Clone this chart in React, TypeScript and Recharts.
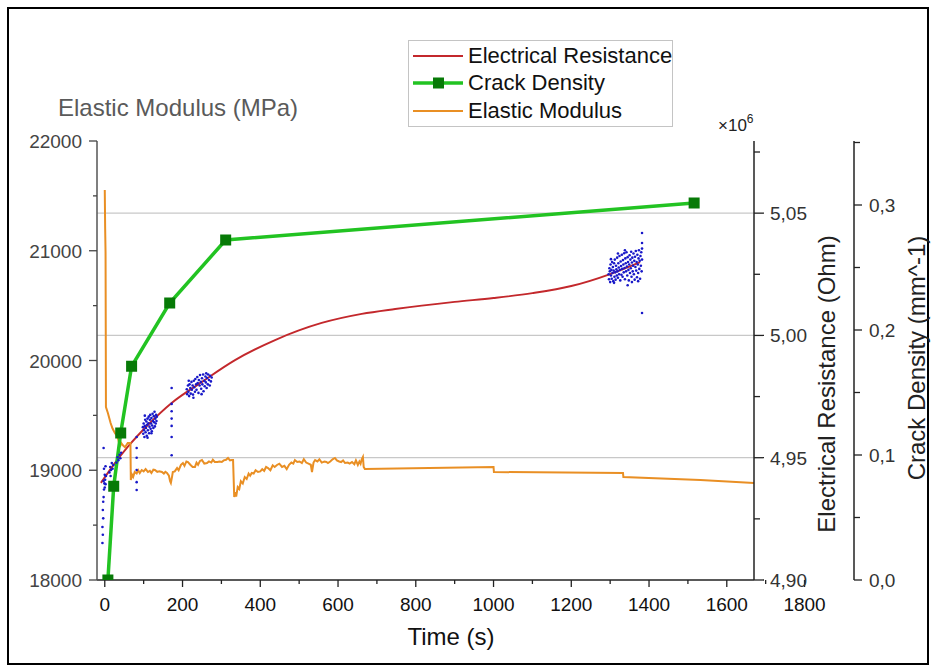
import React from 'react';
import { ComposedChart, Line, Scatter, XAxis, YAxis, ReferenceLine, Legend } from 'recharts';

const FONT = '"Liberation Sans", Arial, sans-serif';

// axis ticks (majors get a label, the rest are minor ticks)
const timeTicks = [0, 100, 200, 300, 400, 500, 600, 700, 800, 900, 1000, 1100, 1200, 1300, 1400, 1500, 1600, 1700, 1800];
const modulusTicks = [18000, 18500, 19000, 19500, 20000, 20500, 21000, 21500, 22000];
const resistanceTicks = [4.9, 4.925, 4.95, 4.975, 5.0, 5.025, 5.05, 5.075];
const crackTicks = [0, 0.05, 0.1, 0.15, 0.2, 0.25, 0.3, 0.35];
const resistanceGrid = [4.95, 5.0, 5.05];

// crack density (mm^-1) vs time (s)
const crackDensity = [
  [8, 0], [23, 0.075], [41, 0.1176], [69, 0.171], [167, 0.2216], [311, 0.272], [1516, 0.3016],
];

// electrical resistance fit (x10^6 Ohm)
const resistanceFit = [
  [-10, 4.9397], [26, 4.9478], [59, 4.9544], [116, 4.9642], [172, 4.9724], [250, 4.981],
  [335, 4.9899], [438, 4.9981], [558, 5.0051], [661, 5.0088], [747, 5.0108], [900, 5.0137],
  [1000, 5.0153], [1100, 5.0173], [1200, 5.0202], [1300, 5.0251], [1377, 5.03],
];

// electrical resistance measurements (x10^6 Ohm)
const resistanceEarly = [
  [-6, 4.9151], [-5, 4.9185], [-6, 4.9217], [-4, 4.9252], [-5, 4.9286], [-4, 4.932], [-3, 4.9339],
  [-2, 4.937], [-1, 4.9395], [0, 4.9378], [1, 4.941], [2, 4.9392], [3, 4.9425], [-3, 4.9405],
  [0, 4.943], [12, 4.944], [14, 4.9462], [15, 4.9425], [16, 4.945], [18, 4.9478], [20, 4.9455],
  [22, 4.947], [30, 4.948], [33, 4.9502], [35, 4.949], [38, 4.9512], [40, 4.9498], [42, 4.952],
  [-2, 4.9455], [2, 4.9465], [-3, 4.954],
  [82, 4.9585], [82, 4.954], [82, 4.95], [82, 4.945], [82, 4.94], [82, 4.9368],
  [172, 4.9785], [172, 4.972], [172, 4.969], [172, 4.966], [172, 4.963], [172, 4.9585], [172, 4.951],
];
const resistanceMid = [
  [98, 4.9625], [99, 4.9598], [100, 4.964], [101, 4.9612], [102, 4.9585], [103, 4.963], [104, 4.9655],
  [105, 4.9604], [106, 4.9622], [107, 4.9648], [108, 4.959], [109, 4.9635], [110, 4.966], [111, 4.9612],
  [112, 4.9641], [113, 4.9668], [114, 4.96], [115, 4.9627], [116, 4.9655], [117, 4.9675], [118, 4.9618],
  [119, 4.964], [120, 4.9662], [121, 4.9608], [122, 4.9632], [123, 4.968], [124, 4.965], [125, 4.9622],
  [126, 4.967], [127, 4.9645], [128, 4.9688], [129, 4.9628], [130, 4.966], [131, 4.964], [132, 4.9675],
  [133, 4.965], [134, 4.9668], [103, 4.9672], [110, 4.9582], [120, 4.96],
  [211, 4.978], [212, 4.976], [214, 4.9795], [215, 4.977], [217, 4.9752], [218, 4.98], [220, 4.9785],
  [221, 4.9762], [223, 4.981], [224, 4.9778], [226, 4.9795], [227, 4.9758], [229, 4.9815], [230, 4.9788],
  [232, 4.977], [233, 4.9822], [235, 4.98], [236, 4.9778], [238, 4.983], [239, 4.9805], [241, 4.9765],
  [242, 4.9818], [244, 4.9795], [245, 4.9838], [247, 4.981], [248, 4.9782], [250, 4.9825], [251, 4.98],
  [253, 4.984], [254, 4.9772], [256, 4.9815], [257, 4.9792], [259, 4.9832], [260, 4.9808], [262, 4.9785],
  [263, 4.9826], [265, 4.98], [266, 4.984], [268, 4.9818], [270, 4.9795], [271, 4.9835], [273, 4.9812],
  [275, 4.9828], [216, 4.9815], [228, 4.9745], [249, 4.976], [261, 4.9845],
];
const resistanceLate = [
  [1296, 5.025], [1297, 5.023], [1298, 5.0275], [1299, 5.0262], [1300, 5.0218], [1301, 5.029], [1302, 5.0245],
  [1303, 5.0268], [1304, 5.0232], [1305, 5.03], [1306, 5.0255], [1307, 5.028], [1308, 5.0222], [1309, 5.0265],
  [1310, 5.0295], [1311, 5.024], [1312, 5.031], [1313, 5.0258], [1314, 5.0228], [1315, 5.0285], [1316, 5.027],
  [1317, 5.0245], [1318, 5.0318], [1319, 5.0262], [1320, 5.0236], [1321, 5.0295], [1322, 5.0278], [1323, 5.025],
  [1324, 5.0325], [1325, 5.0268], [1326, 5.0225], [1327, 5.0302], [1328, 5.0284], [1329, 5.0248], [1330, 5.033],
  [1331, 5.0272], [1332, 5.024], [1333, 5.0308], [1334, 5.029], [1335, 5.0258], [1336, 5.0336], [1337, 5.0276],
  [1338, 5.023], [1339, 5.0315], [1340, 5.0295], [1341, 5.0262], [1342, 5.034], [1343, 5.0282], [1344, 5.0245],
  [1345, 5.032], [1346, 5.03], [1347, 5.0268], [1348, 5.0225], [1349, 5.029], [1350, 5.0328], [1351, 5.0255],
  [1352, 5.031], [1353, 5.0275], [1354, 5.0342], [1355, 5.024], [1356, 5.0298], [1357, 5.0318], [1358, 5.0262],
  [1359, 5.0285], [1360, 5.0335], [1361, 5.025], [1362, 5.0305], [1363, 5.0228], [1364, 5.0322], [1365, 5.028],
  [1366, 5.0345], [1367, 5.0265], [1368, 5.03], [1369, 5.0238], [1370, 5.033], [1371, 5.029], [1372, 5.0255],
  [1373, 5.0315], [1374, 5.0348], [1375, 5.0272], [1376, 5.0305], [1377, 5.0232], [1378, 5.0325], [1379, 5.0285],
  [1380, 5.034], [1381, 5.0262], [1382, 5.031], [1382, 5.0419], [1382, 5.0378], [1382, 5.0355], [1382, 5.0092],
  [1345, 5.0205], [1310, 5.0215], [1302, 5.0312], [1320, 5.0335], [1338, 5.0348], [1356, 5.0218], [1372, 5.0222],
];

// elastic modulus (MPa) vs time (s)
const elasticModulus = [
  [0, 21553], [1, 21200], [2, 20979], [2.5, 20300], [3, 19576], [8, 19522], [12, 19470], [15, 19430],
  [20, 19380], [26, 19339], [30, 19320], [33, 19303], [36, 19260], [39, 19212], [42, 19250], [46, 19230],
  [52, 19210], [59, 19248], [64, 19248], [66, 19248], [67, 18911], [70, 18960], [73, 18940], [77, 18984],
  [82, 18970], [86, 19000], [90, 18975], [95, 19002], [100, 18990], [105, 19010], [111, 18984], [116, 18995],
  [120, 18975], [125, 19005], [129, 19002], [135, 18985], [140, 18990], [147, 18984], [152, 18970],
  [156, 18985], [160, 18975], [165, 18950], [168, 18900], [170, 18884], [173, 18940], [175, 18984],
  [180, 18990], [186, 19020], [190, 19000], [196, 19050], [201, 19066], [205, 19040], [210, 19080],
  [214, 19075], [220, 19050], [226, 19030], [232, 19030], [236, 19070], [240, 19050], [245, 19085],
  [250, 19093], [256, 19060], [263, 19066], [268, 19080], [274, 19070], [278, 19095], [283, 19075],
  [290, 19075], [295, 19080], [301, 19075], [306, 19090], [312, 19095], [317, 19112], [322, 19090],
  [327, 19093], [330, 19093], [333, 18756], [336, 18800], [338, 18760], [342, 18847], [346, 18830],
  [350, 18900], [355, 18880], [360, 18938], [365, 18920], [370, 18970], [374, 18950], [378, 18975],
  [383, 18970], [388, 19000], [394, 18984], [400, 18990], [405, 19010], [410, 18995], [415, 19030],
  [420, 19020], [426, 19000], [432, 19045], [437, 19030], [443, 19048], [449, 19060], [456, 19030],
  [462, 19040], [468, 19010], [474, 19050], [480, 19070], [485, 19060], [489, 19093], [495, 19075],
  [501, 19080], [507, 19066], [512, 19100], [518, 19070], [524, 19060], [530, 19050], [533, 18984],
  [537, 19070], [541, 19093], [547, 19080], [552, 19100], [558, 19070], [565, 19080], [570, 19075],
  [574, 19066], [580, 19080], [586, 19100], [592, 19112], [597, 19090], [603, 19080], [608, 19075],
  [613, 19090], [618, 19066], [625, 19070], [630, 19060], [636, 19075], [642, 19055], [646, 19090],
  [651, 19048], [655, 19080], [658, 19060], [661, 19100], [664, 19121], [666, 19030], [669, 19011],
  [1000, 19030], [1001, 18984], [1333, 18975], [1334, 18938], [1532, 18911], [1670, 18884],
];

const toRows = (pairs: number[][]) => pairs.map(([t, v]) => ({ t, v }));
const resistancePoints = toRows([...resistanceEarly, ...resistanceMid, ...resistanceLate]);

const RED = '#c3282c';
const GREEN = '#22c322';
const GREEN_DARK = '#077a07';
const ORANGE = '#e98f24';
const BLUE = '#1818c8';

const legendItems = [
  { name: 'Electrical Resistance', color: RED, width: 1.8, marker: false },
  { name: 'Crack Density', color: GREEN, width: 3.5, marker: true },
  { name: 'Elastic Modulus', color: ORANGE, width: 1.8, marker: false },
];

const comma = (v: number, d: number) => v.toFixed(d).replace('.', ',');

function TimeTick({ x, y, payload }: any) {
  const major = payload.value % 200 === 0;
  return (
    <g>
      <line x1={x} x2={x} y1={y} y2={y + (major ? 7 : 4)} stroke="#222" strokeWidth={1.3} />
      {major && (
        <text x={x} y={y + 31} textAnchor="middle" fontSize={19} fill="#111">{payload.value}</text>
      )}
    </g>
  );
}

function ModulusTick({ x, y, payload }: any) {
  const major = payload.value % 1000 === 0;
  return (
    <g>
      <line x1={x} x2={x - (major ? 8 : 4)} y1={y} y2={y} stroke="#444" strokeWidth={1.3} />
      {major && (
        <text x={x - 15} y={y + 7} textAnchor="end" fontSize={19} fill="#444">{payload.value}</text>
      )}
    </g>
  );
}

function ResistanceTick({ x, y, payload }: any) {
  const major = Math.round(payload.value * 1000) % 50 === 0;
  return (
    <g>
      <line x1={x} x2={x + (major ? 10 : 6)} y1={y} y2={y} stroke="#222" strokeWidth={1.3} />
      {major && (
        <text x={x + 16} y={y + 7} fontSize={19} fill="#333">{comma(payload.value, 2)}</text>
      )}
    </g>
  );
}

function CrackTick({ x, y, payload }: any) {
  const major = Math.round(payload.value * 100) % 10 === 0;
  return (
    <g>
      <line x1={x} x2={x + (major ? 8 : 6)} y1={y} y2={y} stroke="#222" strokeWidth={1.3} />
      {major && (
        <text x={x + 15} y={y + 7} fontSize={19} fill="#333">{comma(payload.value, 1)}</text>
      )}
    </g>
  );
}

function renderLegend() {
  return (
    <div
      style={{
        border: '1px solid #c4c4c4',
        background: '#fff',
        padding: '1px 3px',
        fontFamily: FONT,
        fontSize: 22,
        color: '#111',
        whiteSpace: 'nowrap',
        boxSizing: 'border-box',
        width: 265,
      }}
    >
      {legendItems.map((item) => (
        <div key={item.name} style={{ display: 'flex', alignItems: 'center', height: 27.5 }}>
          <svg width={52} height={14} style={{ display: 'block', flex: 'none' }}>
            <line x1={1} x2={51} y1={7} y2={7} stroke={item.color} strokeWidth={item.width} />
            {item.marker && <rect x={21} y={1.5} width={11} height={11} fill={GREEN_DARK} />}
          </svg>
          <span style={{ marginLeft: 4, lineHeight: 1 }}>{item.name}</span>
        </div>
      ))}
    </div>
  );
}

export default function App() {
  return (
    <div style={{ position: 'relative', width: 931, height: 668, fontFamily: FONT, background: '#fff' }}>
      <style>{'body{margin:0;}'}</style>
      <div
        style={{
          position: 'absolute',
          left: 7,
          top: 7,
          width: 922,
          height: 658,
          border: '2px solid #000',
          boxSizing: 'border-box',
          pointerEvents: 'none',
        }}
      />
      <ComposedChart
        width={931}
        height={668}
        margin={{ top: 141, right: 0, bottom: 0, left: 0 }}
        style={{ fontFamily: FONT }}
      >
        <XAxis
          dataKey="t"
          type="number"
          domain={[-20, 1670]}
          allowDataOverflow
          ticks={timeTicks}
          interval={0}
          tick={<TimeTick />}
          tickLine={false}
          tickSize={0}
          tickMargin={0}
          height={88}
          axisLine={{ stroke: '#222', strokeWidth: 1.5 }}
          label={() => (
            <text x={451} y={645} textAnchor="middle" fontSize={24} fill="#111">Time (s)</text>
          )}
        />
        <YAxis
          yAxisId="mod"
          orientation="left"
          type="number"
          domain={[18000, 22000]}
          allowDataOverflow
          ticks={modulusTicks}
          interval={0}
          tick={<ModulusTick />}
          tickLine={false}
          tickSize={0}
          tickMargin={0}
          width={97}
          axisLine={{ stroke: '#555', strokeWidth: 1.5 }}
          label={() => (
            <text x={58} y={116} fontSize={24} fill="#5a5a5a">Elastic Modulus (MPa)</text>
          )}
        />
        <YAxis
          yAxisId="crack"
          orientation="right"
          type="number"
          domain={[0, 0.3512]}
          allowDataOverflow
          ticks={crackTicks}
          interval={0}
          tick={<CrackTick />}
          tickLine={false}
          tickSize={0}
          tickMargin={0}
          width={77}
          axisLine={{ stroke: '#222', strokeWidth: 1.5 }}
          label={() => (
            <text
              transform="translate(916,358) rotate(-90)"
              textAnchor="middle"
              dominantBaseline="central"
              fontSize={24}
              fill="#222"
            >
              Crack Density (mm^-1)
            </text>
          )}
        />
        <YAxis
          yAxisId="ares"
          orientation="right"
          type="number"
          domain={[4.9, 5.0795]}
          allowDataOverflow
          ticks={resistanceTicks}
          interval={0}
          tick={<ResistanceTick />}
          tickLine={false}
          tickSize={0}
          tickMargin={0}
          width={100}
          axisLine={{ stroke: '#222', strokeWidth: 1.5 }}
          label={() => (
            <g>
              <text x={718} y={131} fontSize={17} fill="#222">
                ×10<tspan dy={-8} fontSize={12}>6</tspan>
              </text>
              <text
                transform="translate(826,384) rotate(-90)"
                textAnchor="middle"
                dominantBaseline="central"
                fontSize={24}
                fill="#222"
              >
                Electrical Resistance (Ohm)
              </text>
            </g>
          )}
        />

        {resistanceGrid.map((v) => (
          <ReferenceLine key={v} yAxisId="ares" y={v} stroke="#c8c8c8" strokeWidth={1.2} />
        ))}

        <Legend
          layout="vertical"
          align="center"
          verticalAlign="middle"
          width={265}
          content={renderLegend}
          wrapperStyle={{ left: 408, top: 40, width: 265, height: 86 }}
        />

        <Scatter
          name="Electrical Resistance data"
          yAxisId="ares"
          data={resistancePoints}
          dataKey="v"
          isAnimationActive={false}
          legendType="none"
          shape={(p: any) => <circle cx={p.cx} cy={p.cy} r={1.3} fill={BLUE} />}
        />
        <Line
          name="Electrical Resistance"
          yAxisId="ares"
          data={toRows(resistanceFit)}
          dataKey="v"
          type="monotone"
          stroke={RED}
          strokeWidth={1.9}
          dot={false}
          isAnimationActive={false}
        />
        <Line
          name="Elastic Modulus"
          yAxisId="mod"
          data={toRows(elasticModulus)}
          dataKey="v"
          type="linear"
          stroke={ORANGE}
          strokeWidth={2}
          dot={false}
          isAnimationActive={false}
        />
        <Line
          name="Crack Density"
          yAxisId="crack"
          data={toRows(crackDensity)}
          dataKey="v"
          type="linear"
          stroke={GREEN}
          strokeWidth={3.5}
          dot={(p: any) => (
            <rect key={p.index} x={p.cx - 5.5} y={p.cy - 5.5} width={11} height={11} fill={GREEN_DARK} />
          )}
          isAnimationActive={false}
        />
      </ComposedChart>
    </div>
  );
}
